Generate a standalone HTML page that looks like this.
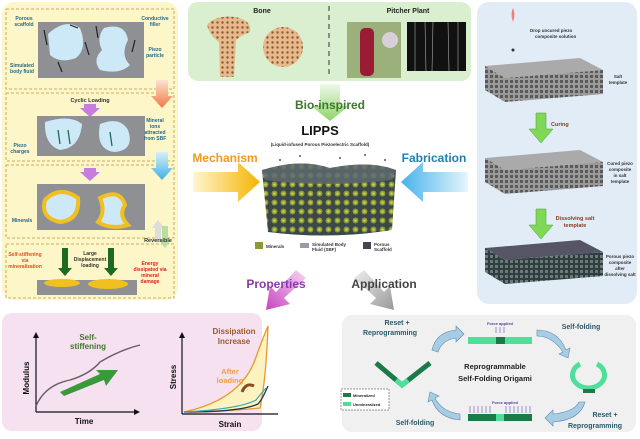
<!DOCTYPE html>
<html><head><meta charset="utf-8"><style>
html,body{margin:0;padding:0;background:#fff}
svg{display:block}
text{font-family:"Liberation Sans",sans-serif;font-weight:bold}
</style></head><body>
<svg width="640" height="439" viewBox="0 0 640 439" xmlns="http://www.w3.org/2000/svg">
<defs>
<linearGradient id="mech" x1="0" x2="1"><stop offset="0" stop-color="#fff6d0"/><stop offset="1" stop-color="#f5b400"/></linearGradient>
<linearGradient id="fab" x1="1" x2="0"><stop offset="0" stop-color="#e6f5fd"/><stop offset="1" stop-color="#47b3ea"/></linearGradient>
<linearGradient id="bio" x1="0" y1="0" x2="0" y2="1"><stop offset="0" stop-color="#eef8e6"/><stop offset="1" stop-color="#8fd46a"/></linearGradient>
<linearGradient id="prop" x1="1" y1="0" x2="0" y2="1"><stop offset="0" stop-color="#f7d8f2"/><stop offset="1" stop-color="#c744c0"/></linearGradient>
<linearGradient id="app" x1="0" y1="0" x2="1" y2="1"><stop offset="0" stop-color="#eee"/><stop offset="1" stop-color="#999"/></linearGradient>
<linearGradient id="orng" x1="0" y1="0" x2="0" y2="1"><stop offset="0" stop-color="#fde2d0"/><stop offset="1" stop-color="#ef7a45"/></linearGradient>
<linearGradient id="blu" x1="0" y1="0" x2="0" y2="1"><stop offset="0" stop-color="#d9f0fa"/><stop offset="1" stop-color="#3fb1e4"/></linearGradient>
<pattern id="grid" width="5" height="5" patternUnits="userSpaceOnUse"><rect width="5" height="5" fill="#9a9a9a"/><rect width="3" height="3" fill="#5a5a5a"/></pattern>
<pattern id="grid2" width="5" height="5" patternUnits="userSpaceOnUse"><rect width="5" height="5" fill="#2f3f3f"/><rect width="3" height="3" fill="#6b7a78"/></pattern>
<pattern id="pores" width="9" height="9" patternUnits="userSpaceOnUse"><rect width="9" height="9" fill="#3c4749"/><circle cx="4.5" cy="4.5" r="3" fill="#8c9a36"/><circle cx="4.5" cy="4.5" r="1.3" fill="#c9d44a"/></pattern>
<pattern id="bonep" width="5" height="5" patternUnits="userSpaceOnUse"><rect width="5" height="5" fill="#e7b98c"/><circle cx="2.5" cy="2.5" r="1.2" fill="#8a5a30"/></pattern>
</defs>

<!-- left mechanism panel -->
<rect x="2" y="2" width="176" height="298" rx="12" fill="#fdf6c8"/>
<g fill="none" stroke="#b89640" stroke-dasharray="3,2" stroke-width="0.8">
<rect x="6" y="9" width="168" height="80"/>
<rect x="6" y="93" width="168" height="68"/>
<rect x="6" y="165" width="168" height="73"/>
<rect x="6" y="244" width="168" height="54"/>
</g>
<rect x="38" y="22" width="106" height="56" fill="#8e9093"/>
<path d="M48 34 Q65 18 80 28 Q88 48 76 58 Q60 64 50 55 Z" fill="#cde8f7"/>
<path d="M104 28 Q125 22 128 40 Q120 55 130 65 Q120 75 100 70 Q92 60 102 50 Q96 38 104 28Z" fill="#cde8f7"/>
<g stroke="#222" stroke-width="1.2"><line x1="44" y1="30" x2="47" y2="45"/><line x1="70" y1="25" x2="78" y2="28"/><line x1="85" y1="42" x2="89" y2="55"/><line x1="58" y1="62" x2="62" y2="72"/><line x1="135" y1="40" x2="132" y2="52"/><line x1="96" y1="26" x2="98" y2="38"/></g>
<text x="24" y="20" font-size="5" fill="#1f6a90" text-anchor="middle">Porous</text><text x="24" y="26" font-size="5" fill="#1f6a90" text-anchor="middle">scaffold</text>
<text x="155" y="20" font-size="5" fill="#1f6a90" text-anchor="middle">Conductive</text><text x="155" y="26" font-size="5" fill="#1f6a90" text-anchor="middle">filler</text>
<text x="155" y="51" font-size="5" fill="#1f6a90" text-anchor="middle">Piezo</text><text x="155" y="57" font-size="5" fill="#1f6a90" text-anchor="middle">particle</text>
<text x="22" y="67" font-size="5" fill="#1f6a90" text-anchor="middle">Simulated</text><text x="22" y="73" font-size="5" fill="#1f6a90" text-anchor="middle">body fluid</text>
<text x="90" y="102" font-size="5.5" fill="#333" text-anchor="middle">Cyclic Loading</text>
<path d="M84 104h12v4h4l-10 9-10-9h4z" fill="#c77de0"/>
<rect x="37" y="116" width="108" height="40" fill="#8e9093"/>
<path d="M45 122 Q70 114 82 124 Q80 148 60 150 Q44 145 45 122Z" fill="#cde8f7"/>
<path d="M100 124 Q120 116 128 130 Q135 150 115 152 Q95 150 100 124Z" fill="#cde8f7"/>
<g stroke="#1c6b5a" stroke-width="1.3"><line x1="58" y1="130" x2="60" y2="144"/><line x1="68" y1="130" x2="70" y2="144"/><line x1="110" y1="132" x2="112" y2="146"/></g>
<text x="155" y="122" font-size="5" fill="#1f6a90" text-anchor="middle">Mineral</text><text x="155" y="128" font-size="5" fill="#1f6a90" text-anchor="middle">ions</text><text x="155" y="134" font-size="5" fill="#1f6a90" text-anchor="middle">attracted</text><text x="155" y="140" font-size="5" fill="#1f6a90" text-anchor="middle">from SBF</text>
<text x="20" y="147" font-size="5" fill="#1f6a90" text-anchor="middle">Piezo</text><text x="20" y="153" font-size="5" fill="#1f6a90" text-anchor="middle">charges</text>
<path d="M156 80h12v16h5l-11 12-11-12h5z" fill="url(#orng)"/>
<path d="M156 152h12v16h5l-11 12-11-12h5z" fill="url(#blu)"/>
<path d="M84 168h12v4h4l-10 9-10-9h4z" fill="#c77de0"/>
<rect x="37" y="184" width="108" height="46" fill="#8e9093"/>
<path d="M45 200 Q60 185 78 198 Q80 220 60 222 Q40 218 45 200Z" fill="#cde8f7" stroke="#f0c020" stroke-width="4"/>
<path d="M100 198 Q120 188 125 205 Q118 215 128 225 Q110 230 98 222 Q106 212 100 198Z" fill="#cde8f7" stroke="#f0c020" stroke-width="4"/>
<text x="22" y="222" font-size="5" fill="#1f6a90" text-anchor="middle">Minerals</text>
<path d="M152 228l6-8 6 8h-3v14h-6v-14z" fill="#ddd"/><path d="M162 226h6v14h3l-6 8-6-8h3z" fill="#b9df9c"/>
<text x="158" y="242" font-size="5.5" fill="#333" text-anchor="middle">Reversible</text>
<text x="25" y="256" font-size="5" fill="#e05020" text-anchor="middle">Self-stiffening</text><text x="25" y="262" font-size="5" fill="#e05020" text-anchor="middle">via</text><text x="25" y="268" font-size="5" fill="#e05020" text-anchor="middle">mineralization</text>
<text x="90" y="255" font-size="5" fill="#333" text-anchor="middle">Large</text><text x="90" y="261" font-size="5" fill="#333" text-anchor="middle">Displacement</text><text x="90" y="267" font-size="5" fill="#333" text-anchor="middle">loading</text>
<text x="150" y="265" font-size="5" fill="#e02020" text-anchor="middle">Energy</text><text x="150" y="271" font-size="5" fill="#e02020" text-anchor="middle">dissipated via</text><text x="150" y="277" font-size="5" fill="#e02020" text-anchor="middle">mineral</text><text x="150" y="283" font-size="5" fill="#e02020" text-anchor="middle">damage</text>
<path d="M62 248h6v20h4l-7 8-7-8h4z" fill="#1e6a22"/><path d="M108 248h6v20h4l-7 8-7-8h4z" fill="#1e6a22"/>
<rect x="37" y="280" width="100" height="15" fill="#8e9093"/>
<ellipse cx="62" cy="283" rx="18" ry="4" fill="#f0c020"/><ellipse cx="108" cy="284" rx="20" ry="5" fill="#f0c020"/>

<!-- bio box -->
<rect x="188" y="2" width="283" height="79" rx="10" fill="#d9efd0"/>
<line x1="329" y1="6" x2="329" y2="78" stroke="#333" stroke-dasharray="5,4" stroke-width="1"/>
<text x="262" y="13" font-size="7" fill="#222" text-anchor="middle">Bone</text>
<text x="408" y="13" font-size="7" fill="#222" text-anchor="middle">Pitcher Plant</text>
<path d="M207 25 Q215 15 235 17 Q252 20 250 32 Q240 36 236 40 L234 77 L220 77 L219 42 Q210 36 207 25Z" fill="url(#bonep)"/>
<circle cx="283" cy="47" r="20" fill="url(#bonep)"/>
<rect x="347" y="22" width="54" height="56" fill="#9bb07a"/><rect x="360" y="28" width="14" height="48" rx="5" fill="#9a1c34"/><circle cx="390" cy="40" r="8" fill="#d8d0d8"/>
<rect x="407" y="22" width="59" height="49" fill="#111"/>
<g stroke="#aaa" stroke-width="0.6"><line x1="415" y1="22" x2="415" y2="71"/><line x1="425" y1="22" x2="426" y2="71"/><line x1="433" y1="22" x2="432" y2="71"/><line x1="448" y1="22" x2="449" y2="71"/><line x1="458" y1="22" x2="458" y2="71"/></g>

<path d="M320 84h20v22h9l-19 15-19-15h9z" fill="url(#bio)"/>
<text x="330" y="109" font-size="12" fill="#3a7a2a" text-anchor="middle">Bio-inspired</text>
<text x="320" y="135" font-size="13" fill="#111" text-anchor="middle">LIPPS</text>
<text x="320" y="146" font-size="4.5" fill="#333" text-anchor="middle">(Liquid-infused Porous Piezoelectric Scaffold)</text>

<path d="M262 170 Q300 158 330 168 Q370 160 396 170 L392 230 Q330 240 268 232 Z" fill="url(#pores)"/>
<path d="M262 170 Q300 158 330 168 Q370 160 396 170 L392 180 Q330 188 265 180Z" fill="#5d6a70" opacity="0.85"/>
<g fill="#556"><circle cx="280" cy="160" r="1"/><circle cx="300" cy="156" r="1"/><circle cx="340" cy="158" r="1"/><circle cx="365" cy="155" r="1"/><circle cx="385" cy="160" r="1"/></g>
<rect x="255" y="242" width="8" height="7" fill="#8c9a36"/><text x="266" y="248" font-size="4.5" fill="#333">Minerals</text>
<rect x="300" y="243" width="9" height="5" fill="#99a"/><text x="312" y="246" font-size="4.5" fill="#333">Simulated Body</text><text x="312" y="251" font-size="4.5" fill="#333">Fluid (SBF)</text>
<rect x="363" y="242" width="8" height="7" fill="#445"/><text x="374" y="246" font-size="4.5" fill="#333">Porous</text><text x="374" y="251" font-size="4.5" fill="#333">Scaffold</text>

<text x="225" y="162" font-size="12" fill="#f09a20" text-anchor="middle">Mechanism</text>
<path d="M193 172h45v-10l22 20-22 20v-10h-45z" fill="url(#mech)"/>
<text x="434" y="162" font-size="12" fill="#1f7fae" text-anchor="middle">Fabrication</text>
<path d="M468 172h-45v-10l-22 20 22 20v-10h45z" fill="url(#fab)"/>

<!-- properties / application arrows (behind text) -->
<path d="M296 270 l10 8 -22 20 6 6 -24 6 4 -24 6 6z" fill="url(#prop)"/>
<text x="276" y="288" font-size="12" fill="#8a3aa0" text-anchor="middle">Properties</text>
<path d="M364 270 l-10 8 22 20 -6 6 24 6 -4 -24 -6 6z" fill="url(#app)"/>
<text x="384" y="288" font-size="12" fill="#444" text-anchor="middle">Application</text>

<!-- right fabrication panel -->
<rect x="477" y="2" width="160" height="302" rx="12" fill="#e1ecf6"/>
<path d="M513 8 q3 6 0 14 q-3 -8 0 -14z" fill="#f08080"/><circle cx="513" cy="50" r="1.5" fill="#333"/>
<text x="530" y="32" font-size="4.5" fill="#333">Drop uncured piezo</text><text x="535" y="38" font-size="4.5" fill="#333">composite solution</text>
<g>
<path d="M485 66 L580 58 L603 70 L505 78Z" fill="#aaa"/><path d="M485 66 L505 78 L505 102 L485 90Z" fill="url(#grid)"/><path d="M505 78 L603 70 L603 94 L505 102Z" fill="url(#grid)"/>
<path d="M485 158 L580 150 L603 162 L505 170Z" fill="#aaa"/><path d="M485 158 L505 170 L505 194 L485 182Z" fill="url(#grid)"/><path d="M505 170 L603 162 L603 186 L505 194Z" fill="url(#grid)"/>
<path d="M485 248 L580 240 L603 252 L505 260Z" fill="#556"/><path d="M485 248 L505 260 L505 284 L485 272Z" fill="url(#grid2)"/><path d="M505 260 L603 252 L603 276 L505 284Z" fill="url(#grid2)"/>
</g>
<text x="618" y="78" font-size="4.5" fill="#333" text-anchor="middle">Salt</text><text x="618" y="84" font-size="4.5" fill="#333" text-anchor="middle">template</text>
<text x="620" y="165" font-size="4.5" fill="#333" text-anchor="middle">Cured piezo</text><text x="620" y="171" font-size="4.5" fill="#333" text-anchor="middle">composite</text><text x="620" y="177" font-size="4.5" fill="#333" text-anchor="middle">in salt</text><text x="620" y="183" font-size="4.5" fill="#333" text-anchor="middle">template</text>
<text x="620" y="258" font-size="4.5" fill="#333" text-anchor="middle">Porous piezo</text><text x="620" y="264" font-size="4.5" fill="#333" text-anchor="middle">composite</text><text x="620" y="270" font-size="4.5" fill="#333" text-anchor="middle">after</text><text x="620" y="276" font-size="4.5" fill="#333" text-anchor="middle">dissolving salt</text>
<path d="M536 113h10v16h7l-12 14-12-14h7z" fill="#7ed957" stroke="#4a9a30" stroke-width="0.5"/>
<text x="551" y="126" font-size="5.5" fill="#8a3a20">Curing</text>
<path d="M536 209h10v16h7l-12 14-12-14h7z" fill="#7ed957" stroke="#4a9a30" stroke-width="0.5"/>
<text x="575" y="220" font-size="5.5" fill="#8a3a20" text-anchor="middle">Dissolving salt</text><text x="575" y="227" font-size="5.5" fill="#8a3a20" text-anchor="middle">template</text>

<!-- properties panel -->
<rect x="2" y="313" width="260" height="118" rx="10" fill="#f5e1f0"/>
<line x1="36" y1="412" x2="36" y2="336" stroke="#111" stroke-width="1.2"/><path d="M33 338l3-6 3 6z" fill="#111"/>
<line x1="36" y1="412" x2="136" y2="412" stroke="#111" stroke-width="1.2"/><path d="M134 409l6 3-6 3z" fill="#111"/>
<path d="M36 406 Q45 385 70 380 Q90 374 100 362 Q120 350 140 345" fill="none" stroke="#6a5a6a" stroke-width="1.4"/>
<path d="M60 392 L100 374 L96 370 L118 370 L106 386 L104 380 L64 396Z" fill="#3a9a3a"/>
<text x="88" y="340" font-size="8" fill="#3a7a2a" text-anchor="middle">Self-</text><text x="88" y="349" font-size="8" fill="#3a7a2a" text-anchor="middle">stiffening</text>
<text x="29" y="378" font-size="8" fill="#111" text-anchor="middle" transform="rotate(-90 29 378)">Modulus</text>
<text x="84" y="424" font-size="8" fill="#111" text-anchor="middle">Time</text>
<line x1="182" y1="414" x2="182" y2="336" stroke="#111" stroke-width="1.2"/><path d="M179 338l3-6 3 6z" fill="#111"/>
<line x1="182" y1="414" x2="278" y2="414" stroke="#111" stroke-width="1.2"/>
<path d="M184 412 Q240 400 255 360 Q262 340 268 326 Q266 380 260 408 Q220 412 184 412Z" fill="#fdf3c0" stroke="#e8982a" stroke-width="1.3"/>
<path d="M184 412 Q240 412 258 404 Q262 400 268 386" fill="none" stroke="#1d3a4a" stroke-width="1.3"/>
<path d="M184 412 Q240 409 256 400 Q260 395 266 388" fill="none" stroke="#3aa0b8" stroke-width="1.1"/>
<path d="M242 392 Q246 382 254 386" fill="none" stroke="#8a4a20" stroke-width="3"/>
<text x="176" y="377" font-size="8" fill="#111" text-anchor="middle" transform="rotate(-90 176 377)">Stress</text>
<text x="230" y="427" font-size="8" fill="#111" text-anchor="middle">Strain</text>
<text x="234" y="334" font-size="8" fill="#9a5a30" text-anchor="middle">Dissipation</text><text x="234" y="344" font-size="8" fill="#9a5a30" text-anchor="middle">Increase</text>
<text x="230" y="374" font-size="7.5" fill="#f0a040" text-anchor="middle">After</text><text x="230" y="383" font-size="7.5" fill="#f0a040" text-anchor="middle">loading</text>

<!-- application panel -->
<rect x="342" y="315" width="294" height="117" rx="10" fill="#f0f0f0"/>
<text x="397" y="325" font-size="7" fill="#2a5a6a" text-anchor="middle">Reset +</text><text x="390" y="335" font-size="7" fill="#2a5a6a" text-anchor="middle">Reprogramming</text>
<text x="581" y="329" font-size="7" fill="#2a5a6a" text-anchor="middle">Self-folding</text>
<text x="605" y="417" font-size="7" fill="#2a5a6a" text-anchor="middle">Reset +</text><text x="595" y="428" font-size="7" fill="#2a5a6a" text-anchor="middle">Reprogramming</text>
<text x="415" y="425" font-size="7" fill="#2a5a6a" text-anchor="middle">Self-folding</text>
<text x="495" y="369" font-size="7.5" fill="#222" text-anchor="middle">Reprogrammable</text>
<text x="495" y="381" font-size="7.5" fill="#222" text-anchor="middle">Self-Folding Origami</text>
<text x="500" y="325" font-size="4" fill="#5a3a9a" text-anchor="middle">Force applied</text>
<g stroke="#6a4ab0" stroke-width="0.6"><line x1="496" y1="327" x2="496" y2="333"/><line x1="500" y1="327" x2="500" y2="333"/><line x1="504" y1="327" x2="504" y2="333"/></g>
<rect x="468" y="337" width="64" height="7" fill="#4ee09a"/><rect x="496" y="337" width="9" height="7" fill="#1a7a48"/>
<text x="505" y="404" font-size="4" fill="#5a3a9a" text-anchor="middle">Force applied</text>
<g stroke="#6a4ab0" stroke-width="0.6"><line x1="470" y1="406" x2="470" y2="413"/><line x1="474" y1="406" x2="474" y2="413"/><line x1="478" y1="406" x2="478" y2="413"/><line x1="482" y1="406" x2="482" y2="413"/><line x1="486" y1="406" x2="486" y2="413"/><line x1="490" y1="406" x2="490" y2="413"/><line x1="506" y1="406" x2="506" y2="413"/><line x1="510" y1="406" x2="510" y2="413"/><line x1="514" y1="406" x2="514" y2="413"/><line x1="518" y1="406" x2="518" y2="413"/><line x1="522" y1="406" x2="522" y2="413"/><line x1="526" y1="406" x2="526" y2="413"/><line x1="530" y1="406" x2="530" y2="413"/></g>
<rect x="468" y="414" width="64" height="7" fill="#1a7a48"/><rect x="496" y="414" width="8" height="7" fill="#4ee09a"/>
<path d="M376 363 L402 385 L430 363" fill="none" stroke="#1a7a48" stroke-width="5"/>
<path d="M396 380 L402 385 L408 380" fill="none" stroke="#4ee09a" stroke-width="5"/>
<path d="M580 364 A 16 13 0 1 0 597 364" fill="none" stroke="#4ee09a" stroke-width="5"/>
<rect x="583" y="389" width="12" height="4" fill="#1a7a48"/>
<rect x="341" y="389" width="48" height="21" fill="#fff" stroke="#333" stroke-dasharray="2,1" stroke-width="0.5"/>
<rect x="343" y="393" width="8" height="4" fill="#1a7a48"/><text x="353" y="397" font-size="4" fill="#222">Mineralized</text>
<rect x="343" y="402" width="8" height="4" fill="#4ee09a"/><text x="353" y="406" font-size="4" fill="#222">Unmineralized</text>
<g fill="#a8cce4" stroke="#5a8ab0" stroke-width="0.6">
<path d="M432 350 Q436 332 456 330 l0 -4 8 8 -8 8 0 -4 Q442 340 438 352Z"/>
<path d="M537 330 Q558 330 566 350 l4 -2 -2 10 -9 -4 4 -2 Q552 336 537 336Z"/>
<path d="M585 402 Q580 420 553 422 l0 4 -8 -8 8 -8 0 4 Q574 412 579 402Z"/>
<path d="M460 420 Q438 418 432 400 l-4 2 2 -10 9 4 -4 2 Q442 412 460 414Z"/>
</g>
</svg>
</body></html>
